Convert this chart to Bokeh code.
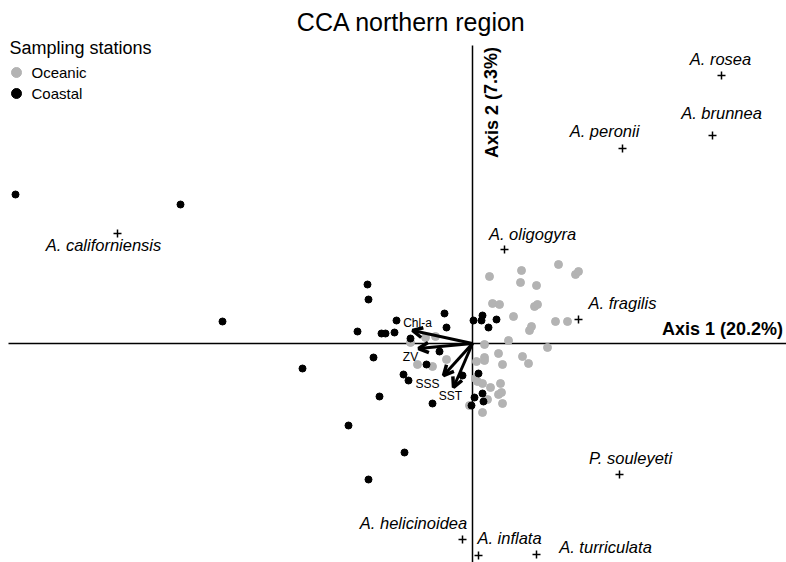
from bokeh.plotting import figure
from bokeh.models import Range1d, ColumnDataSource, Arrow, OpenHead
from bokeh.embed import file_html
from bokeh.resources import INLINE
from bokeh.core.properties import value

# ---------------- data (CCA scores) ----------------
# Sampling stations, oceanic
oceanic_x = [0.17, 0.49, 0.48, 0.64, 0.86, 1.03, 1.06, 0.20, 0.27, 0.62, 0.65,
             0.41, 0.59, 0.57, 0.83, 0.95, 0.36, 0.75, 0.12, 0.12, 0.12, 0.26,
             0.30, 0.50, 0.56, 0.04, 0.03, 0.05, 0.10, 0.18, 0.28, 0.26, 0.29,
             0.15, 0.30, 0.10, -0.03, -0.47, -0.37, -0.62, -0.55, -0.40, -0.26]
oceanic_y = [0.67, 0.73, 0.61, 0.58, 0.79, 0.69, 0.72, 0.40, 0.39, 0.37, 0.39,
             0.27, 0.17, 0.13, 0.22, 0.22, 0.03, -0.04, -0.01, -0.14, -0.17, -0.10,
             -0.21, -0.13, -0.20, -0.18, -0.35, -0.38, -0.40, -0.44, -0.40, -0.51, -0.49,
             -0.56, -0.60, -0.69, -0.62, 0.06, 0.07, 0.01, -0.21, -0.23, -0.16]

# Sampling stations, coastal
coastal_x = [-4.57, -2.92, -2.50, -1.70, -0.99, -0.69, -0.64, -0.93, -1.24, -0.68,
             -1.04, -1.05, -1.04, -0.76, -1.15, -0.91, -0.87, -0.78, -0.28, -0.26,
             -0.62, 0.01, 0.10, 0.09, 0.24, 0.16, -0.33, -0.46, -0.40, -0.10,
             0.06, 0.10, 0.11, 0.02, -0.01]
coastal_y = [1.49, 1.39, 0.22, -0.25, -0.14, -0.31, -0.37, -0.53, -0.82, -1.09,
             -1.36, 0.59, 0.44, 0.23, 0.12, 0.10, 0.10, 0.11, 0.30, 0.16,
             0.05, 0.23, 0.28, 0.23, 0.24, 0.16, -0.08, -0.21, -0.60, -0.32,
             -0.30, -0.50, -0.58, -0.54, -0.62]

# Species scores
species = ["A. rosea", "A. brunnea", "A. peronii", "A. oligogyra", "A. fragilis",
           "A. californiensis", "P. souleyeti", "A. helicinoidea", "A. inflata",
           "A. turriculata"]
species_x = [2.49, 2.40, 1.50, 0.32, 1.06, -3.55, 1.47, -0.10, 0.06, 0.64]
species_y = [2.68, 2.08, 1.95, 0.94, 0.24, 1.10, -1.31, -1.96, -2.12, -2.11]

# Environmental variables (biplot arrows)
env_vars = ["Chl-a", "ZV", "SSS", "SST"]
env_x = [-0.60, -0.54, -0.29, -0.19]
env_y = [0.13, -0.05, -0.32, -0.44]

# ---------------- layout ----------------
W, H = 786, 562
OX, OY, S = 472, 343, 100.0   # origin in page pixels, pixels per unit


def ux(px):
    return (px - OX) / S


def uy(py):
    return (OY - py) / S


FONT = value("Liberation Sans")
GREY = "#b3b3b3"

# label offsets (pixels, right / down) relative to each species mark
species_dx = [-1, 9, -18, 28, 44, -14, 11, -49, 31, 69]
species_dy = [-17, -23, -18, -16, -17, 11, -17, -17, -18, -8]
# label offsets relative to each arrow tip
env_dx = [5, -8, -16, -3]
env_dy = [-8, 8, 8, 8]

p = figure(width=W, height=H, output_backend="svg", toolbar_location=None,
           x_range=Range1d(ux(0), ux(W)), y_range=Range1d(uy(H), uy(0)),
           min_border=0, outline_line_color=None, background_fill_color="white",
           border_fill_color="white")
p.axis.visible = False
p.grid.visible = False

# ordination axes through the origin
p.segment(x0=[ux(8), 0], y0=[0, uy(45)], x1=[ux(W), 0], y1=[0, uy(H)],
          line_color="black", line_width=1.5)

# stations
p.scatter(oceanic_x, oceanic_y, size=8, marker="circle",
          fill_color=GREY, line_color=GREY)
p.scatter(coastal_x, coastal_y, size=7, marker="circle",
          fill_color="black", line_color="black")

# species
p.scatter(species_x, species_y, size=8, marker="cross",
          line_color="black", line_width=1.5)
p.text(x=[x + dx / S for x, dx in zip(species_x, species_dx)],
       y=[y - dy / S for y, dy in zip(species_y, species_dy)],
       text=species, text_font=FONT, text_font_style="italic",
       text_font_size="16.5px", text_align="center", text_baseline="middle",
       text_color="black")

# environmental arrows
arrow_src = ColumnDataSource(dict(x0=[0.0] * len(env_x), y0=[0.0] * len(env_y),
                                  x1=env_x, y1=env_y))
p.add_layout(Arrow(x_start="x0", y_start="y0", x_end="x1", y_end="y1",
                   source=arrow_src, line_color="black", line_width=3,
                   end=OpenHead(size=10, line_width=3.5, line_color="black")))
p.text(x=[x + dx / S for x, dx in zip(env_x, env_dx)],
       y=[y - dy / S for y, dy in zip(env_y, env_dy)],
       text=env_vars, text_font=FONT, text_font_size="12px",
       text_align="center", text_baseline="middle", text_color="black")

# axis titles
p.text(x=[ux(722)], y=[uy(328)], text=["Axis 1 (20.2%)"], text_font=FONT,
       text_font_style="bold", text_font_size="18px", text_align="center",
       text_baseline="middle", text_color="black")
p.text(x=[ux(491)], y=[uy(102)], text=["Axis 2 (7.3%)"], text_font=FONT,
       text_font_style="bold", text_font_size="18px", text_align="center",
       text_baseline="middle", angle=1.5708, text_color="black")

# chart title
p.text(x=[ux(411)], y=[uy(21)], text=["CCA northern region"], text_font=FONT,
       text_font_size="25px", text_align="center", text_baseline="middle",
       text_color="black")

# legend
p.text(x=[ux(9)], y=[uy(47)], text=["Sampling stations"], text_font=FONT,
       text_font_size="18px", text_align="left", text_baseline="middle",
       text_color="black")
p.scatter([ux(16)], [uy(72)], size=10, marker="circle",
          fill_color=GREY, line_color=GREY)
p.scatter([ux(16)], [uy(93)], size=10, marker="circle",
          fill_color="black", line_color="black")
p.text(x=[ux(31), ux(31)], y=[uy(72), uy(93)], text=["Oceanic", "Coastal"],
       text_font=FONT, text_font_size="15px", text_align="left",
       text_baseline="middle", text_color="black")

open("out.html", "w").write(file_html(p, INLINE))
